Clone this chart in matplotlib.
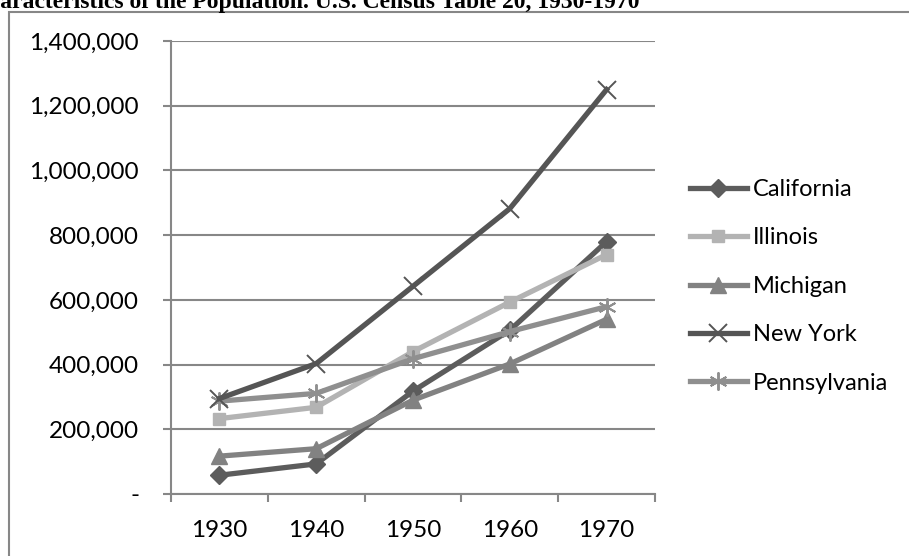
import matplotlib.pyplot as plt
from matplotlib.patches import Rectangle
from matplotlib.ticker import FuncFormatter

years = ['1930', '1940', '1950', '1960', '1970']
california = [58000, 93000, 318000, 506000, 780000]
illinois = [233000, 268000, 440000, 593000, 740000]
michigan = [117000, 140000, 290000, 402000, 540000]
new_york = [295000, 403000, 642000, 882000, 1250000]
pennsylvania = [287000, 311000, 418000, 502000, 579000]

plt.rcParams['font.family'] = ['Lato', 'DejaVu Sans']

fig = plt.figure(figsize=(9.09, 5.56), dpi=100)
ax = fig.add_axes([171/909, 1-494/556, 484/909, 453/556])

x = range(len(years))
ax.plot(x, california, color='#5c5c5c', lw=3.8, marker='D', ms=9, label='California', zorder=3)
ax.plot(x, illinois, color='#b3b3b3', lw=3.8, marker='s', ms=9, label='Illinois', zorder=3)
ax.plot(x, michigan, color='#828282', lw=3.8, marker='^', ms=11, label='Michigan', zorder=3)
ax.plot(x, new_york, color='#555555', lw=3.8, marker='x', ms=13, mew=1.4, label='New York', zorder=4)
ax.plot(x, pennsylvania, color='#8f8f8f', lw=3.8, marker=(6, 2, 0), ms=13, mew=1.4, label='Pennsylvania', zorder=3)

ax.set_xlim(-0.5, 4.5)
ax.set_ylim(0, 1400000)
ax.set_yticks(range(0, 1400001, 200000))
ax.yaxis.set_major_formatter(FuncFormatter(lambda v, p: '-' if v == 0 else f'{int(v):,}'))
ax.set_xticks(list(x))
ax.set_xticklabels(years)
ax.set_xticks([i - 0.5 for i in range(6)], minor=True)

grey = '#878787'
ax.grid(axis='y', color=grey, lw=1.5)
ax.set_axisbelow(True)
for s in ['top', 'right']:
    ax.spines[s].set_visible(False)
for s in ['left', 'bottom']:
    ax.spines[s].set_color(grey)
    ax.spines[s].set_linewidth(1.5)
ax.tick_params(axis='y', length=6, width=1.5, color=grey, labelsize=17.5, pad=17)
ax.tick_params(axis='x', which='major', length=0, labelsize=17.5, pad=19)
ax.tick_params(axis='x', which='minor', length=6, width=1.5, color=grey)

ax.legend(loc='upper left', bbox_to_anchor=(690/909, 1-179/556), bbox_transform=fig.transFigure,
          frameon=False, fontsize=17, handlelength=2.4, handletextpad=0.25,
          labelspacing=1.16, borderpad=0, borderaxespad=0)

# chart border
fig.patches.append(Rectangle((9/909, -0.1), 1.2, 1-12/556+0.1, transform=fig.transFigure,
                             fill=False, edgecolor=grey, lw=1.5))

fig.text(-30/909, 1-8/556, 'Characteristics of the Population. U.S. Census Table 20, 1930-1970',
         family='Liberation Serif', weight='bold', fontsize=17, va='baseline', ha='left')

fig.savefig('out.png', dpi=100)
